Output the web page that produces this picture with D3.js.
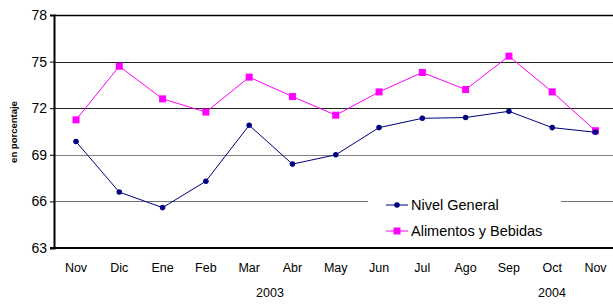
<!DOCTYPE html>
<html>
<head>
<meta charset="utf-8">
<script src="https://cdn.jsdelivr.net/npm/d3@7"></script>
<style>
  body { margin: 0; background: #fff; }
  svg { display: block; font-family: "Liberation Sans", Arial, sans-serif; }
  svg text { font-family: "Liberation Sans", Arial, sans-serif; }
</style>
</head>
<body>
<div id="viz"></div>
<script>
const months = ["Nov", "Dic", "Ene", "Feb", "Mar", "Abr", "May", "Jun", "Jul", "Ago", "Sep", "Oct", "Nov"];
const nivelGeneral = [69.85, 66.6, 65.6, 67.3, 70.9, 68.4, 69.0, 70.75, 71.35, 71.4, 71.8, 70.75, 70.45];
const alimentos = [71.25, 74.7, 72.6, 71.75, 74.0, 72.75, 71.55, 73.05, 74.3, 73.2, 75.35, 73.05, 70.55];
const yTicks = [63, 66, 69, 72, 75, 78];
const years = [{ label: "2003", at: 270 }, { label: "2004", at: 552 }];

const W = 613, H = 305;
const m = { left: 54, right: 0, top: 15, bottom: 57 };
const FONT = "'Liberation Sans', Arial, sans-serif";

const svg = d3.select("#viz").append("svg").attr("width", W).attr("height", H);

const x = d3.scalePoint().domain(d3.range(months.length)).range([76, 595.5]);
const y = d3.scaleLinear().domain([63, 78]).range([H - m.bottom, m.top]);

// gridlines
const gridColor = { 78: "#000", 75: "#222", 72: "#222", 69: "#808080", 66: "#707070" };
svg.append("g").selectAll("line").data(yTicks.filter((t) => t > 63)).join("line")
  .attr("x1", m.left).attr("x2", W)
  .attr("y1", (d) => Math.round(y(d)) + 0.5).attr("y2", (d) => Math.round(y(d)) + 0.5)
  .attr("stroke", (d) => gridColor[d]).attr("stroke-width", (d) => (d === 78 ? 1.5 : 1));

// legend box (white, hides the grid behind it)
const lg = svg.append("g");
lg.append("rect").attr("x", 368).attr("y", 190).attr("width", 193).attr("height", 56).attr("fill", "#fff");

// y axis
const yAxis = svg.append("g")
  .attr("transform", `translate(${m.left},0)`)
  .call(d3.axisLeft(y).tickValues(yTicks).tickSize(4).tickPadding(3));
yAxis.select(".domain").attr("stroke", "#000").attr("stroke-width", 2);
yAxis.selectAll(".tick line").attr("stroke", "#000");
yAxis.selectAll("text").attr("font-size", 14).attr("fill", "#000").attr("font-family", FONT);

// x axis baseline
svg.append("line")
  .attr("x1", m.left - 4).attr("x2", W)
  .attr("y1", y(63)).attr("y2", y(63))
  .attr("stroke", "#000").attr("stroke-width", 2);

svg.append("g").selectAll("text").data(months).join("text")
  .attr("x", (d, i) => x(i)).attr("y", 272)
  .attr("text-anchor", "middle").attr("font-size", 12.5).attr("fill", "#000")
  .text((d) => d);

svg.append("g").selectAll("text").data(years).join("text")
  .attr("x", (d) => d.at).attr("y", 297)
  .attr("text-anchor", "middle").attr("font-size", 12.5).attr("fill", "#000")
  .text((d) => d.label);

// y label
svg.append("text")
  .attr("transform", "translate(17,132) rotate(-90)")
  .attr("text-anchor", "middle").attr("font-size", 9.5).attr("font-weight", "bold")
  .text("en porcentaje");

// lines
const line = d3.line().x((d, i) => x(i)).y((d) => y(d));

svg.append("path").datum(alimentos).attr("d", line)
  .attr("fill", "none").attr("stroke", "#ff00ff").attr("stroke-width", 1);
svg.append("g").selectAll("rect").data(alimentos).join("rect")
  .attr("x", (d, i) => x(i) - 3.5).attr("y", (d) => y(d) - 3.5)
  .attr("width", 7).attr("height", 7).attr("fill", "#ff00ff");

const diamond = d3.symbol().type(d3.symbolCircle).size(24);
svg.append("path").datum(nivelGeneral).attr("d", line)
  .attr("fill", "none").attr("stroke", "#000080").attr("stroke-width", 1);
svg.append("g").selectAll("path").data(nivelGeneral).join("path")
  .attr("transform", (d, i) => `translate(${x(i)},${y(d)})`)
  .attr("d", diamond).attr("fill", "#000080");

// legend entries
const entries = [
  { name: "Nivel General", color: "#000080", mark: "diamond", yy: 205 },
  { name: "Alimentos y Bebidas", color: "#ff00ff", mark: "square", yy: 231 }
];
entries.forEach((e) => {
  lg.append("line").attr("x1", 386).attr("x2", 408).attr("y1", e.yy).attr("y2", e.yy)
    .attr("stroke", e.color).attr("stroke-width", 1);
  if (e.mark === "diamond") {
    lg.append("path").attr("transform", `translate(397,${e.yy})`).attr("d", diamond).attr("fill", e.color);
  } else {
    lg.append("rect").attr("x", 393.5).attr("y", e.yy - 3.5).attr("width", 7).attr("height", 7).attr("fill", e.color);
  }
  lg.append("text").attr("x", 411).attr("y", e.yy + 5)
    .attr("font-size", 14.5).attr("fill", "#000").text(e.name);
});
</script>
</body>
</html>
